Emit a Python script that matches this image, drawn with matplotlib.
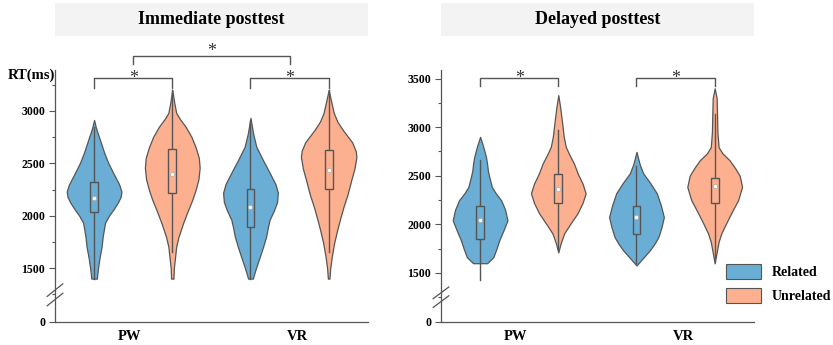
import matplotlib.pyplot as plt
from matplotlib.patches import Rectangle, Patch

plt.rcParams["font.family"] = ["Liberation Serif", "DejaVu Serif"]
plt.rcParams["font.weight"] = "bold"

BLUE = "#6aaed6"
ORANGE = "#fdb08f"
EDGE = "#555555"

groups = ["PW", "VR"]
conditions = ["Related", "Unrelated"]
positions = [1, 2, 3, 4]

# violin outlines: RT level and half-width (x units)
imm_levels = [
    [1400, 1500, 1600, 1705, 1800, 1933, 2000, 2057, 2120, 2180, 2231, 2300,
     2400, 2505, 2600, 2724, 2800, 2850, 2914],
    [1400, 1500, 1600, 1705, 1800, 1933, 2050, 2152, 2250, 2350, 2457, 2550,
     2650, 2752, 2850, 2920, 2981, 3080, 3200],
    [1400, 1500, 1610, 1700, 1800, 1880, 1962, 2050, 2130, 2219, 2300, 2410,
     2530, 2657, 2780, 2933],
    [1400, 1500, 1610, 1740, 1867, 1980, 2086, 2200, 2343, 2450, 2562, 2620,
     2700, 2760, 2819, 2900, 2981, 3080, 3200],
]
imm_widths = [
    [0.035, 0.05, 0.07, 0.096, 0.11, 0.14, 0.19, 0.245, 0.3, 0.34, 0.35, 0.32,
     0.25, 0.18, 0.13, 0.075, 0.04, 0.02, 0.0],
    [0.015, 0.02, 0.035, 0.05, 0.08, 0.14, 0.2, 0.256, 0.3, 0.335, 0.35, 0.34,
     0.3, 0.245, 0.17, 0.1, 0.05, 0.025, 0.0],
    [0.03, 0.07, 0.12, 0.16, 0.2, 0.22, 0.245, 0.3, 0.34, 0.35, 0.32, 0.245,
     0.16, 0.075, 0.035, 0.0],
    [0.01, 0.02, 0.04, 0.07, 0.11, 0.15, 0.19, 0.24, 0.29, 0.33, 0.355, 0.345,
     0.3, 0.24, 0.18, 0.11, 0.065, 0.035, 0.0],
]
del_levels = [
    [1600, 1663, 1750, 1835, 1940, 2041, 2150, 2247, 2320, 2385, 2480, 2550,
     2620, 2694, 2800, 2900],
    [1711, 1804, 1907, 2000, 2113, 2220, 2319, 2420, 2520, 2626, 2720, 2797,
     2900, 3072, 3200, 3330],
    [1577, 1650, 1732, 1800, 1869, 1970, 2075, 2200, 2319, 2420, 2525, 2620,
     2746],
    [1598, 1732, 1820, 1907, 2000, 2113, 2250, 2385, 2500, 2580, 2660, 2730,
     2794, 2950, 3144, 3300, 3400],
]
del_widths = [
    [0.09, 0.17, 0.21, 0.245, 0.3, 0.35, 0.32, 0.27, 0.2, 0.15, 0.12, 0.1,
     0.09, 0.075, 0.04, 0.0],
    [0.0, 0.03, 0.075, 0.15, 0.245, 0.31, 0.35, 0.31, 0.25, 0.2, 0.14, 0.096,
     0.07, 0.045, 0.025, 0.0],
    [0.0, 0.08, 0.17, 0.23, 0.28, 0.32, 0.35, 0.31, 0.26, 0.18, 0.085, 0.04,
     0.0],
    [0.0, 0.03, 0.05, 0.085, 0.14, 0.21, 0.3, 0.35, 0.32, 0.26, 0.19, 0.1,
     0.05, 0.035, 0.03, 0.025, 0.0],
]

# box stats: whisker low, q1, median, q3, whisker high
imm_box = [
    [1400, 2040, 2165, 2318, 2850],
    [1655, 2220, 2400, 2640, 3200],
    [1400, 1895, 2085, 2257, 2900],
    [1655, 2257, 2438, 2630, 3200],
]
del_box = [
    [1423, 1848, 2044, 2186, 2660],
    [1750, 2222, 2364, 2513, 2970],
    [1600, 1896, 2072, 2189, 2600],
    [1650, 2220, 2395, 2477, 3140],
]

panels = [
    dict(title="Immediate posttest", levels=imm_levels, widths=imm_widths,
         box=imm_box, ticks=[1500, 2000, 2500, 3000], zero=986, top=3390,
         brk=1245, pairs=[(1, 2, 3314, 3219), (3, 4, 3314, 3219)],
         big=(1.5, 3.5, 3524, 3448), left=0.066),
    dict(title="Delayed posttest", levels=del_levels, widths=del_widths,
         box=del_box, ticks=[1500, 2000, 2500, 3000, 3500], zero=995, top=3588,
         brk=1250, pairs=[(1, 2, 3505, 3423), (3, 4, 3505, 3423)],
         big=None, left=0.5294),
]

fig = plt.figure(figsize=(8.33, 3.45), dpi=100)

for p in panels:
    ax = fig.add_axes([p["left"], 0.0667, 0.3755, 0.7303])
    colors = [BLUE, ORANGE, BLUE, ORANGE]
    for i, x in enumerate(positions):
        lv = p["levels"][i]
        w = p["widths"][i]
        ax.fill_betweenx(lv, [x - v for v in w], [x + v for v in w],
                         facecolor=colors[i], edgecolor=EDGE, linewidth=0.9,
                         joinstyle="round", zorder=2)
        lo, q1, med, q3, hi = p["box"][i]
        ax.plot([x, x], [lo, hi], color=EDGE, lw=1.0, zorder=3)
        ax.add_patch(Rectangle((x - 0.05, q1), 0.1, q3 - q1, facecolor=colors[i],
                               edgecolor=EDGE, lw=1.0, zorder=4))
        ax.plot(x, med, "o", ms=3, mfc="white", mec="#aaaaaa", mew=0.5, zorder=5)

    for a, b, yb, yt in p["pairs"]:
        ax.plot([a, a, b, b], [yt, yb, yb, yt], color=EDGE, lw=1.0, clip_on=False)
        ax.text((a + b) / 2, yb, "*", ha="center", va="center", fontsize=13,
                fontweight="normal", color="#333333")
    if p["big"]:
        a, b, yb, yt = p["big"]
        ax.plot([a, a, b, b], [yt, yb, yb, yt], color=EDGE, lw=1.0, clip_on=False)
        ax.text((a + b) / 2, yb + 40, "*", ha="center", va="center", fontsize=13,
                fontweight="normal", color="#333333", clip_on=False)

    ax.set_xlim(0.5, 4.5)
    ax.set_ylim(p["zero"], p["top"])
    ax.set_yticks([p["zero"]] + p["ticks"])
    ax.set_yticklabels(["0"] + [str(t) for t in p["ticks"]], fontsize=8.5,
                       fontweight="bold")
    ax.set_yticks([t + 250 for t in p["ticks"] if t + 250 < p["top"]] +
                  [p["ticks"][0] - 250], minor=True)
    ax.set_xticks([1.45, 3.6])
    ax.set_xticklabels(groups, fontsize=10.5, fontweight="bold")
    ax.tick_params(axis="x", length=0, pad=6)
    ax.tick_params(axis="y", which="major", length=4, width=0.8, color=EDGE, pad=3)
    ax.tick_params(axis="y", which="minor", length=2.5, width=0.8, color=EDGE)
    for s in ["top", "right"]:
        ax.spines[s].set_visible(False)
    for s in ["left", "bottom"]:
        ax.spines[s].set_color(EDGE)
        ax.spines[s].set_linewidth(0.9)

    # axis break marks
    for dy in [-45, 45]:
        ax.plot([-0.025, 0.025], [p["brk"] + dy - 60, p["brk"] + dy + 60],
                transform=ax.get_yaxis_transform(), color=EDGE, lw=0.9,
                clip_on=False)

    # title band
    pos = ax.get_position()
    fig.patches.append(Rectangle((pos.x0, 1 - 36 / 345), pos.width, 33 / 345,
                                 transform=fig.transFigure, facecolor="#f3f3f3",
                                 edgecolor="none"))
    fig.text(pos.x0 + pos.width / 2, 1 - 19.5 / 345, p["title"], ha="center",
             va="center", fontsize=13, fontweight="bold")

    if p["left"] < 0.5:
        fig.text(8 / 833, 1 - 75 / 345, "RT(ms)", ha="left", va="center",
                 fontsize=10.5, fontweight="bold")

handles = [Patch(facecolor=BLUE, edgecolor=EDGE, lw=0.8),
           Patch(facecolor=ORANGE, edgecolor=EDGE, lw=0.8)]
fig.legend(handles, conditions, loc="upper left",
           bbox_to_anchor=(722 / 833, 1 - 260 / 345), frameon=False,
           fontsize=10, handlelength=2.5, handleheight=1.25, labelspacing=0.65,
           handletextpad=0.8, borderaxespad=0, borderpad=0.3)

fig.savefig("out.png", dpi=100)
